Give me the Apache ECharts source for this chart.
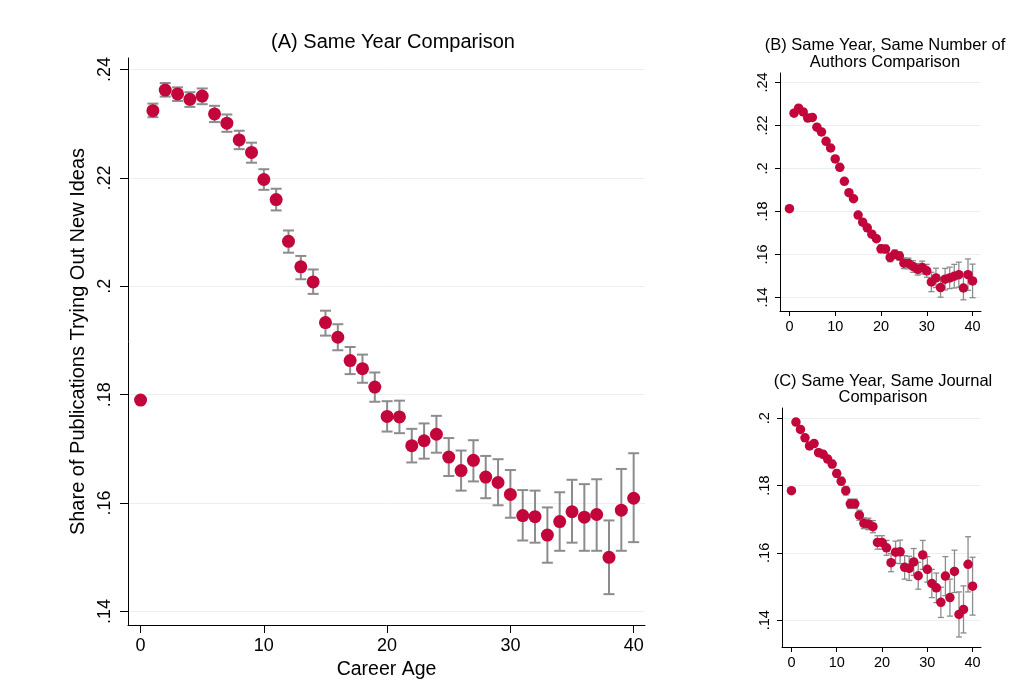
<!DOCTYPE html>
<html>
<head>
<meta charset="utf-8">
<script src="https://cdn.jsdelivr.net/npm/echarts@6/dist/echarts.min.js"></script>
<style>
  html, body { margin: 0; padding: 0; background: #fff; }
  #main { width: 1022px; height: 698px; }
</style>
</head>
<body>
<div id="main"></div>
<script>
// career age 0..40
var ages = [0,1,2,3,4,5,6,7,8,9,10,11,12,13,14,15,16,17,18,19,20,
  21,22,23,24,25,26,27,28,29,30,31,32,33,34,35,36,37,38,39,40];
var xTicks = [0, 10, 20, 30, 40];
var abTicks = [0.14, 0.16, 0.18, 0.2, 0.22, 0.24];
var cTicks = [0.14, 0.16, 0.18, 0.2];

// (A) same year
var aMean = [0.1790,0.2324,0.2362,0.2355,0.2345,0.2351,0.2318,0.2301,0.2270,0.2247,0.2197,
  0.2160,0.2083,0.2036,0.2008,0.1933,0.1906,0.1863,0.1848,0.1814,0.1760,
  0.1759,0.1706,0.1715,0.1727,0.1685,0.1660,0.1679,0.1648,0.1638,0.1616,
  0.1577,0.1575,0.1541,0.1566,0.1584,0.1574,0.1579,0.1500,0.1587,0.1609];
var aLow = [0.1787,0.2312,0.2350,0.2342,0.2331,0.2336,0.2303,0.2285,0.2253,0.2228,0.2178,
  0.2140,0.2062,0.2013,0.1986,0.1909,0.1882,0.1838,0.1822,0.1787,0.1732,
  0.1729,0.1675,0.1682,0.1693,0.1650,0.1623,0.1640,0.1609,0.1596,0.1573,
  0.1531,0.1527,0.1490,0.1512,0.1527,0.1512,0.1512,0.1432,0.1512,0.1528];
var aHigh = [0.1793,0.2337,0.2375,0.2367,0.2358,0.2365,0.2333,0.2317,0.2287,0.2265,0.2216,
  0.2180,0.2103,0.2056,0.2031,0.1955,0.1930,0.1888,0.1874,0.1841,0.1788,
  0.1789,0.1737,0.1747,0.1761,0.1720,0.1697,0.1716,0.1687,0.1681,0.1661,
  0.1624,0.1623,0.1592,0.1620,0.1643,0.1635,0.1644,0.1568,0.1663,0.1692];

// (B) same year, same number of authors
var bMean = [0.1813,0.2257,0.2280,0.2263,0.2234,0.2237,0.2192,0.2170,0.2126,0.2095,0.2044,
  0.2005,0.1940,0.1887,0.1859,0.1783,0.1750,0.1724,0.1694,0.1673,0.1626,
  0.1625,0.1586,0.1601,0.1593,0.1559,0.1558,0.1544,0.1531,0.1539,0.1524,
  0.1472,0.1491,0.1446,0.1485,0.1491,0.1499,0.1506,0.1444,0.1506,0.1477];
var bHalf = [0.0003,0.0008,0.0008,0.0008,0.0008,0.0008,0.0008,0.0008,0.0009,0.0009,0.0010,
  0.0010,0.0010,0.0011,0.0011,0.0012,0.0012,0.0012,0.0013,0.0013,0.0018,
  0.0018,0.0020,0.0020,0.0020,0.0025,0.0025,0.0027,0.0027,0.0030,0.0030,
  0.0045,0.0045,0.0045,0.0050,0.0050,0.0055,0.0058,0.0055,0.0073,0.0078];

// (C) same year, same journal
var cMean = [0.1785,0.1989,0.1967,0.1942,0.1918,0.1925,0.1898,0.1893,0.1879,0.1864,0.1836,
  0.1813,0.1785,0.1746,0.1746,0.1712,0.1688,0.1686,0.1678,0.1631,0.1631,
  0.1615,0.1571,0.1602,0.1603,0.1557,0.1554,0.1573,0.1532,0.1594,0.1551,
  0.1509,0.1496,0.1453,0.1531,0.1467,0.1545,0.1417,0.1432,0.1566,0.1501];
var cHalf = [0.0003,0.0008,0.0008,0.0008,0.0009,0.0009,0.0010,0.0010,0.0010,0.0011,0.0011,
  0.0012,0.0013,0.0014,0.0014,0.0015,0.0016,0.0017,0.0018,0.0020,0.0020,
  0.0022,0.0027,0.0033,0.0035,0.0035,0.0036,0.0040,0.0040,0.0043,0.0038,
  0.0042,0.0044,0.0045,0.0058,0.0055,0.0063,0.0067,0.0070,0.0082,0.0086];

var dotColor = '#c2053a';
var barColor = '#8c8c8c';
var font = '"Liberation Sans", Arial, sans-serif';

function fmt(v) {
  return String(+v.toFixed(2)).replace(/^0/, '');
}

function ciRows(mean, lo, hi) {
  return ages.map(function (a, i) { return [a, lo[i], hi[i]]; });
}
function ciFromHalf(mean, half) {
  return ages.map(function (a, i) { return [a, mean[i] - half[i], mean[i] + half[i]]; });
}
function pts(mean) {
  return ages.map(function (a, i) { return [a, mean[i]]; });
}

function errorBars(idx, rows, cap, lw) {
  return {
    type: 'custom',
    xAxisIndex: idx, yAxisIndex: idx,
    data: rows,
    encode: { x: 0, y: [1, 2] },
    z: 2,
    renderItem: function (params, api) {
      var x = api.value(0);
      var top = api.coord([x, api.value(2)]);
      var bot = api.coord([x, api.value(1)]);
      var st = { stroke: barColor, lineWidth: lw };
      return {
        type: 'group',
        children: [
          { type: 'line', shape: { x1: top[0], y1: top[1], x2: bot[0], y2: bot[1] }, style: st },
          { type: 'line', shape: { x1: top[0] - cap, y1: top[1], x2: top[0] + cap, y2: top[1] }, style: st },
          { type: 'line', shape: { x1: bot[0] - cap, y1: bot[1], x2: bot[0] + cap, y2: bot[1] }, style: st }
        ]
      };
    }
  };
}

function dots(idx, mean, size) {
  return {
    type: 'scatter',
    xAxisIndex: idx, yAxisIndex: idx,
    data: pts(mean),
    symbolSize: size,
    itemStyle: { color: dotColor, opacity: 1 },
    z: 3
  };
}

function xAx(idx, min, max, fs, tickLen, margin) {
  return {
    gridIndex: idx, type: 'value', min: min, max: max,
    axisLine: { show: true, onZero: false, lineStyle: { color: '#000', width: 1 } },
    axisTick: { show: true, length: tickLen, customValues: xTicks, lineStyle: { color: '#000' } },
    axisLabel: { customValues: xTicks, fontSize: fs, color: '#000', fontFamily: font, margin: margin },
    splitLine: { show: false }
  };
}

function yAx(idx, min, max, ticks, fs, tickLen, margin) {
  return {
    gridIndex: idx, type: 'value', min: min, max: max,
    axisLine: { show: true, onZero: false, lineStyle: { color: '#000', width: 1 } },
    axisTick: { show: true, length: tickLen, customValues: ticks, lineStyle: { color: '#000' } },
    axisLabel: { customValues: ticks, fontSize: fs, color: '#000', fontFamily: font,
      rotate: 90, margin: margin, formatter: fmt },
    splitLine: { show: true, lineStyle: { color: '#eaf0f2', width: 1 } }
  };
}

var chart = echarts.init(document.getElementById('main'));

var xA = xAx(0, -1.02, 40.92, 18, 8, 12);
xA.name = 'Career Age';
xA.nameLocation = 'middle';
xA.nameGap = 31;
xA.nameTextStyle = { fontSize: 19.5, color: '#000', fontFamily: font };

var yA = yAx(0, 0.13751, 0.24212, abTicks, 18, 8, 14);
yA.name = 'Share of Publications Trying Out New Ideas';
yA.nameLocation = 'middle';
yA.nameGap = 35;
yA.nameTextStyle = { fontSize: 20, color: '#000', fontFamily: font };

chart.setOption({
  backgroundColor: '#fff',
  animation: false,
  textStyle: { fontFamily: font },
  title: [
    { text: '(A) Same Year Comparison', left: 388, top: 27, textAlign: 'center',
      textStyle: { fontSize: 20, fontWeight: 'normal', color: '#000', fontFamily: font } },
    { text: '(B) Same Year, Same Number of\nAuthors Comparison', left: 880, top: 32, textAlign: 'center',
      textStyle: { fontSize: 16.5, fontWeight: 'normal', color: '#000', fontFamily: font, lineHeight: 17 } },
    { text: '(C) Same Year, Same Journal\nComparison', left: 878, top: 368, textAlign: 'center',
      textStyle: { fontSize: 16.5, fontWeight: 'normal', color: '#000', fontFamily: font, lineHeight: 16 } }
  ],
  grid: [
    { left: 128, top: 58, width: 517, height: 567 },
    { left: 780, top: 73, width: 201, height: 238 },
    { left: 782, top: 408, width: 199, height: 239 }
  ],
  xAxis: [
    xA,
    xAx(1, -2.06, 41.84, 14.5, 5, 8),
    xAx(2, -2.08, 41.86, 14.5, 5, 8)
  ],
  yAxis: [
    yA,
    yAx(1, 0.1337, 0.24438, abTicks, 14.5, 5, 10),
    yAx(2, 0.13202, 0.20307, cTicks, 14.5, 5, 10)
  ],
  series: [
    errorBars(0, ciRows(aMean, aLow, aHigh), 5.5, 2),
    dots(0, aMean, 13),
    errorBars(1, ciFromHalf(bMean, bHalf), 3, 1.3),
    dots(1, bMean, 9.5),
    errorBars(2, ciFromHalf(cMean, cHalf), 3, 1.3),
    dots(2, cMean, 9.5)
  ]
});
</script>
</body>
</html>
